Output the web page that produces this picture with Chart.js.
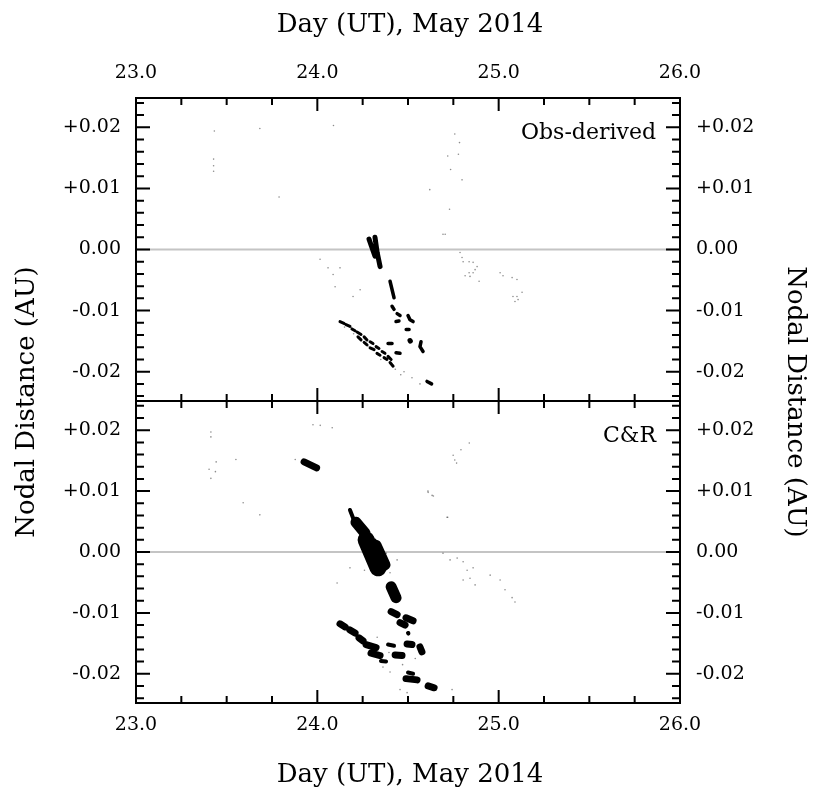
<!DOCTYPE html>
<html lang="en">
<head>
<meta charset="UTF-8">
<title>Nodal distance</title>
<script src="https://cdn.jsdelivr.net/npm/chart.js"></script>
<style>
  body { margin: 0; background: #fff; }
  #wrap { position: relative; width: 813px; height: 798px; }
  #wrap canvas { position: absolute; left: 0; top: 0; }
</style>
</head>
<body>
<div id="wrap">
  <canvas id="topPanel" width="813" height="798"></canvas>
  <canvas id="bottomPanel" width="813" height="798"></canvas>
</div>
<script>
// axis ticks
var dayTicks = [23.0, 24.0, 25.0, 26.0];
var nodalTicks = [0.02, 0.01, 0.00, -0.01, -0.02];

// ---- Obs-derived panel: [day, nodal distance AU] ----
var obsStreaksWide = [
  [[24.285, 0.0017], [24.300, 0.0004], [24.318, -0.0011]],
  [[24.318, 0.0020], [24.330, -0.0005], [24.346, -0.0028]],
  [[24.511, -0.0149], [24.513, -0.0150]]
];
var obsStreaksThin = [
  [[24.401, -0.0052], [24.423, -0.0079]],
  [[24.412, -0.0093], [24.423, -0.0098]],
  [[24.440, -0.0105], [24.456, -0.0108]],
  [[24.434, -0.0118], [24.450, -0.0117]],
  [[24.500, -0.0108], [24.511, -0.0115], [24.528, -0.0118]],
  [[24.490, -0.0131], [24.506, -0.0131]],
  [[24.572, -0.0151], [24.566, -0.0159], [24.583, -0.0167]],
  [[24.390, -0.0154], [24.412, -0.0154]],
  [[24.434, -0.0169], [24.456, -0.0170]],
  [[24.605, -0.0216], [24.630, -0.0220]]
];
var obsDashes = [
  [[24.125, -0.0118], [24.147, -0.0121]],
  [[24.158, -0.0123], [24.180, -0.0126]],
  [[24.191, -0.0130], [24.208, -0.0133]],
  [[24.219, -0.0135], [24.241, -0.0139]],
  [[24.258, -0.0143], [24.274, -0.0148]],
  [[24.291, -0.0151], [24.307, -0.0154]],
  [[24.324, -0.0159], [24.340, -0.0162]],
  [[24.357, -0.0167], [24.373, -0.0170]],
  [[24.390, -0.0175], [24.407, -0.0180]],
  [[24.224, -0.0143], [24.241, -0.0148]],
  [[24.258, -0.0152], [24.274, -0.0156]],
  [[24.291, -0.0161], [24.313, -0.0164]],
  [[24.329, -0.0170], [24.346, -0.0173]],
  [[24.368, -0.0177], [24.384, -0.0180]],
  [[24.401, -0.0185], [24.418, -0.0191]]
];
var obsSpecks = [
  [23.432, 0.0194], [23.428, 0.0148], [23.428, 0.0137], [23.428, 0.0128],
  [23.683, 0.0198], [24.089, 0.0203], [23.789, 0.0086], [24.758, 0.0189],
  [24.784, 0.0175], [24.778, 0.0156], [24.719, 0.0153], [24.735, 0.0131],
  [24.798, 0.0114], [24.620, 0.0098], [24.729, 0.0066], [24.705, 0.0025],
  [24.015, -0.0016], [24.059, -0.0030], [24.087, -0.0041], [24.098, -0.0061],
  [24.125, -0.0030], [24.197, -0.0077], [24.236, -0.0066], [24.693, 0.0025],
  [24.787, -0.0005], [24.798, -0.0013], [24.804, -0.0020], [24.837, -0.0020],
  [24.859, -0.0021], [24.881, -0.0028], [24.870, -0.0033], [24.859, -0.0038],
  [24.837, -0.0038], [24.815, -0.0043], [24.842, -0.0044], [24.892, -0.0052],
  [25.008, -0.0038], [25.024, -0.0043], [25.074, -0.0046], [25.101, -0.0049],
  [25.129, -0.0070], [25.101, -0.0077], [25.079, -0.0077], [25.107, -0.0082],
  [25.090, -0.0085], [24.478, -0.0200], [24.522, -0.0210], [24.566, -0.0220],
  [24.150, -0.0127], [24.200, -0.0138], [24.280, -0.0158], [24.350, -0.0180],
  [24.430, -0.0196], [24.460, -0.0205]
];

// ---- C&R panel ----
var crBlobsLarge = [
  [[24.291, 0.0011], [24.346, -0.0021]],
  [[24.269, 0.0020], [24.335, -0.0026]]
];
var crBlobsMedium = [
  [[24.213, 0.0049], [24.263, 0.0031]],
  [[24.324, 0.0011], [24.373, -0.0021]],
  [[24.407, -0.0057], [24.434, -0.0075]]
];
var crBlobsSmall = [
  [[23.927, 0.0148], [23.996, 0.0138]],
  [[24.407, -0.0098], [24.440, -0.0103]],
  [[24.456, -0.0116], [24.484, -0.0120]],
  [[24.489, -0.0108], [24.528, -0.0113]],
  [[24.495, -0.0151], [24.522, -0.0152]],
  [[24.566, -0.0156], [24.577, -0.0164]],
  [[24.429, -0.0169], [24.467, -0.0170]],
  [[24.489, -0.0208], [24.550, -0.0210]],
  [[24.611, -0.0220], [24.644, -0.0223]],
  [[24.125, -0.0118], [24.153, -0.0123]],
  [[24.180, -0.0128], [24.208, -0.0133]],
  [[24.230, -0.0141], [24.252, -0.0146]],
  [[24.269, -0.0152], [24.324, -0.0157]],
  [[24.296, -0.0166], [24.346, -0.0170]]
];
var crStreaksThin = [
  [[24.180, 0.0069], [24.202, 0.0052]],
  [[24.500, -0.0133], [24.502, -0.0134]],
  [[24.390, -0.0152], [24.423, -0.0154]],
  [[24.351, -0.0179], [24.379, -0.0180]],
  [[24.500, -0.0198], [24.528, -0.0200]]
];
var crSpecks = [
  [23.413, 0.0197], [23.413, 0.0189], [23.442, 0.0148], [23.403, 0.0136],
  [23.438, 0.0132], [23.413, 0.0121], [23.551, 0.0152], [23.591, 0.0081],
  [23.683, 0.0061], [23.976, 0.0209], [24.016, 0.0208], [24.082, 0.0204],
  [23.878, 0.0152], [24.838, 0.0179], [24.792, 0.0168], [24.749, 0.0159],
  [24.758, 0.0151], [24.768, 0.0146], [24.610, 0.0100], [24.640, 0.0092],
  [24.719, 0.0057], [24.693, -0.0002], [24.732, -0.0013], [24.771, -0.0010],
  [24.804, -0.0016], [24.826, -0.0030], [24.859, -0.0026], [24.842, -0.0043],
  [24.804, -0.0046], [24.870, -0.0054], [24.180, -0.0026], [24.109, -0.0051],
  [24.715, 0.0057], [24.611, 0.0098], [24.633, 0.0093], [24.440, -0.0013],
  [24.401, -0.0034], [24.953, -0.0038], [25.008, -0.0046], [25.035, -0.0062],
  [25.074, -0.0075], [25.090, -0.0082], [24.362, -0.0189], [24.401, -0.0197],
  [24.456, -0.0226], [24.495, -0.0231], [24.743, -0.0226], [24.380, -0.0002],
  [24.260, -0.0030], [24.330, -0.0140], [24.395, -0.0165], [24.540, -0.0175],
  [24.470, -0.0185]
];

var serif = '"DejaVu Serif", "Liberation Serif", serif';

function pts(list) {
  return list.map(function (p) { return {x: p[0], y: p[1]}; });
}

// segments joined into one line dataset, broken by null gaps
function segments(list, width) {
  var data = [];
  list.forEach(function (seg, i) {
    if (i > 0) data.push({x: seg[0][0], y: null});
    seg.forEach(function (p) { data.push({x: p[0], y: p[1]}); });
  });
  return {
    type: 'line', data: data, showLine: true, spanGaps: false,
    borderColor: '#000', borderWidth: width, borderCapStyle: 'round',
    borderJoinStyle: 'round', pointRadius: 0, tension: 0, parsing: false
  };
}

function specks(list) {
  return {
    data: pts(list), pointRadius: 0.8, pointBorderWidth: 0,
    backgroundColor: 'rgba(0,0,0,0.45)', borderColor: 'rgba(0,0,0,0)'
  };
}

function nodalLabel(v) {
  if (Math.abs(v) < 1e-9) return '0.00';
  return (v > 0 ? '+' : '-') + Math.abs(v).toFixed(2);
}

var panelFrame = {
  id: 'panelFrame',
  beforeDatasetsDraw: function (chart) {
    var ctx = chart.ctx, a = chart.chartArea, y0 = chart.scales.y.getPixelForValue(0);
    ctx.save();
    ctx.strokeStyle = '#c4c4c4';
    ctx.lineWidth = 2;
    ctx.beginPath();
    ctx.moveTo(a.left, y0);
    ctx.lineTo(a.right, y0);
    ctx.stroke();
    ctx.restore();
  },
  afterDraw: function (chart, args, opts) {
    var ctx = chart.ctx, a = chart.chartArea, xs = chart.scales.x, ys = chart.scales.y;
    ctx.save();
    ctx.strokeStyle = '#000';
    ctx.fillStyle = '#000';
    ctx.lineWidth = 2;
    ctx.strokeRect(a.left, a.top, a.right - a.left, a.bottom - a.top);

    ctx.beginPath();
    for (var i = 0; i <= 12; i++) {
      var d = 23 + i * 0.25, px = xs.getPixelForValue(d), len = (i % 4 === 0) ? 13 : 7;
      ctx.moveTo(px, a.top); ctx.lineTo(px, a.top + len);
      ctx.moveTo(px, a.bottom); ctx.lineTo(px, a.bottom - len);
    }
    for (var k = -12; k <= 12; k++) {
      var py = ys.getPixelForValue(k * 0.002), ylen = (k % 5 === 0) ? 14 : 8;
      ctx.moveTo(a.left, py); ctx.lineTo(a.left + ylen, py);
      ctx.moveTo(a.right, py); ctx.lineTo(a.right - ylen, py);
    }
    ctx.stroke();

    ctx.font = '19px ' + serif;
    ctx.textBaseline = 'middle';
    nodalTicks.forEach(function (v) {
      var py = ys.getPixelForValue(v);
      ctx.textAlign = 'right';
      ctx.fillText(nodalLabel(v), a.left - 15, py);
      ctx.textAlign = 'left';
      ctx.fillText(nodalLabel(v), a.right + 16, py);
    });

    ctx.textAlign = 'center';
    dayTicks.forEach(function (d) {
      ctx.fillText(d.toFixed(1), xs.getPixelForValue(d), opts.tickY);
    });
    ctx.font = '26px ' + serif;
    ctx.fillText('Day (UT), May 2014', (a.left + a.right) / 2 + 2, opts.titleY);

    ctx.font = '22px ' + serif;
    ctx.textAlign = 'right';
    ctx.fillText(opts.name, a.right - 24, a.top + opts.nameDy);

    if (opts.sideTitles) {
      ctx.font = '26px ' + serif;
      ctx.textAlign = 'center';
      ctx.save();
      ctx.translate(27, 402);
      ctx.rotate(-Math.PI / 2);
      ctx.fillText('Nodal Distance (AU)', 0, 0);
      ctx.restore();
      ctx.save();
      ctx.translate(795, 402);
      ctx.rotate(Math.PI / 2);
      ctx.fillText('Nodal Distance (AU)', 0, 0);
      ctx.restore();
    }
    ctx.restore();
  }
};

function makePanel(id, datasets, pad, frameOpts) {
  return new Chart(document.getElementById(id), {
    type: 'scatter',
    data: {datasets: datasets},
    options: {
      responsive: false,
      animation: false,
      events: [],
      layout: {padding: pad},
      scales: {
        x: {type: 'linear', min: 23, max: 26, display: false},
        y: {type: 'linear', min: -0.0248, max: 0.0248, display: false}
      },
      plugins: {legend: {display: false}, tooltip: {enabled: false}, panelFrame: frameOpts}
    },
    plugins: [panelFrame]
  });
}

makePanel('topPanel', [
  specks(obsSpecks),
  segments(obsDashes, 3),
  segments(obsStreaksThin, 3.5),
  segments(obsStreaksWide, 5)
], {left: 136, right: 133, top: 98, bottom: 397},
  {tickY: 73, titleY: 25, name: 'Obs-derived', nameDy: 35, sideTitles: false});

makePanel('bottomPanel', [
  specks(crSpecks),
  segments(crStreaksThin, 4),
  segments(crBlobsSmall, 7),
  segments(crBlobsMedium, 11),
  segments(crBlobsLarge, 17)
], {left: 136, right: 133, top: 401, bottom: 95},
  {tickY: 725, titleY: 775, name: 'C&R', nameDy: 35, sideTitles: true});
</script>
</body>
</html>
